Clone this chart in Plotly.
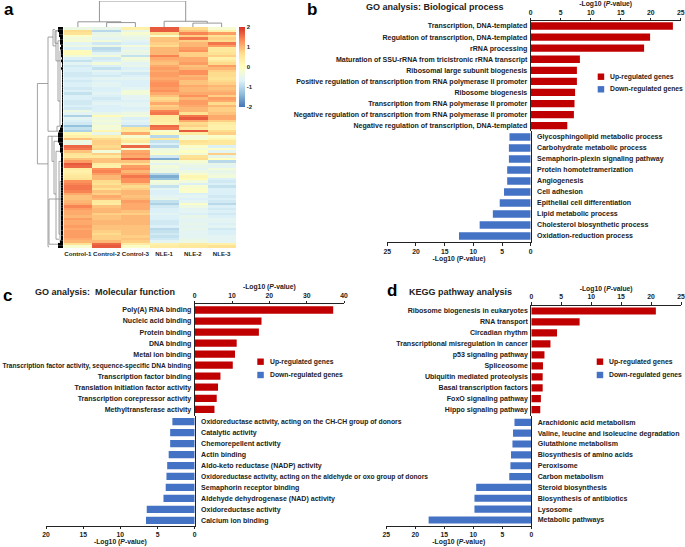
import plotly.graph_objects as go

W, H = 685, 547
FONT = "Liberation Sans"
RED, BLUE, INK = "#C00000", "#4472C4", "#222222"

samples = ["Control-1", "Control-2", "Control-3", "NLE-1", "NLE-2", "NLE-3"]
control_1 = [-0.4,0.7,0.6,-0.1,-0.3,-0.2,-0.6,-0.4,-0.7,0.1,0.1,
             -0.3,-0.7,-0.9,-0.6,-0.8,-0.7,-0.7,-0.8,-0.8,-0.7,-0.8,
             -0.7,-0.7,-0.8,-0.7,-0.9,-0.7,-0.7,-0.8,-0.8,-0.7,-0.8,
             -0.4,-0.6,-1.1,-0.6,-0.7,-0.8,-1.3,-0.9,-1.1,0.1,0.3,
             0.9,-0.4,-0.4,1.6,1.5,0.9,0.6,0.5,0.9,1.2,1.7,
             1.6,0.4,0.3,0.4,0.5,0.6,1.3,1.4,1.5,1.5,1.4,
             1.1,0.9,0.9,1.0,1.1,1.4,1.2,1.1,1.1,1.0,1.2,
             1.1,1.1,1.2,1.1,1.2,1.2,1.2,1.1,1.0,0.6,-0.2]
control_2 = [-0.5,-1.0,-0.5,-0.4,-0.6,-0.3,-0.8,-0.4,-1.0,-0.9,-0.6,
             -0.3,-0.8,-0.7,-0.3,-0.7,-0.9,-0.6,-0.7,-0.8,-0.6,-0.7,
             -0.6,-0.6,-0.7,-0.7,-0.6,-0.7,-0.8,-0.7,-0.6,-0.7,-0.7,
             -0.7,-0.5,0.1,-0.4,-0.3,-0.4,-0.2,-0.3,0.2,-0.5,0.3,
             0.7,0.8,0.8,0.7,0.8,-0.3,0.8,0.5,0.9,0.9,0.4,
             0.3,1.3,1.4,1.2,1.0,1.0,0.7,0.6,0.8,0.6,0.9,
             0.8,1.1,1.0,0.5,0.4,0.9,1.0,1.0,0.8,0.9,0.9,
             1.0,1.0,0.9,0.9,0.8,0.7,0.8,0.8,1.0,1.6,1.7]
control_3 = [0.3,-0.5,-0.2,-0.4,-0.5,-0.6,-0.7,-0.3,-0.6,-0.4,-0.5,
             -0.9,-0.3,-0.4,-0.6,-0.5,-0.7,-0.6,-0.8,-0.7,-0.6,-0.7,
             -0.7,-0.7,-0.6,-0.3,-0.3,-0.6,-0.6,-0.7,-0.6,-0.6,-0.7,
             -0.6,-0.4,-0.3,-0.7,-0.6,-0.7,-1.0,0.5,0.4,1.1,-0.2,
             0.3,0.5,-0.2,1.6,-0.2,1.1,1.2,1.1,1.6,0.9,0.6,
             1.2,1.3,1.0,1.2,1.5,1.3,1.3,0.9,0.7,0.8,1.0,
             1.0,0.9,1.0,1.2,1.1,1.1,1.1,0.9,0.8,1.0,1.0,
             1.0,1.0,0.9,0.9,0.9,0.9,0.8,0.9,0.8,0.4,-0.1]
nle_1 = [1.7,1.7,0.7,-0.1,0.9,0.9,0.8,0.7,1.0,1.0,1.0,
         1.4,1.1,1.0,0.9,1.1,1.2,1.1,1.2,1.2,1.1,1.2,
         1.3,1.3,1.2,1.3,1.1,0.9,0.7,0.8,1.1,0.8,0.9,
         1.4,1.5,0.5,0.4,0.4,0.3,1.6,1.5,-0.2,0.1,-1.0,
         0.5,-0.9,-0.7,-1.0,-0.4,-0.3,-0.1,-0.8,-1.5,-0.3,-0.6,
         -0.3,-0.4,-0.4,-1.0,-1.5,-1.3,-0.3,-0.4,-0.9,-0.6,-0.7,
         -0.7,-0.6,-0.5,-0.9,-1.1,-0.8,-0.7,-0.7,-0.6,-0.7,-0.7,
         -0.8,-0.8,-0.7,-1.0,-0.9,-0.8,-0.9,-0.8,-0.6,0.3,0.4]
nle_2 = [0.7,0.9,1.4,0.8,1.5,0.8,1.0,1.0,1.2,1.3,0.8,
         0.8,1.1,1.1,1.2,0.9,1.0,1.3,1.3,1.0,1.1,0.9,
         0.9,1.1,1.0,1.0,1.1,1.3,1.0,1.2,1.2,1.1,1.0,
         1.0,0.6,1.5,1.7,1.1,0.7,0.8,0.5,1.7,0.4,-0.3,
         -0.2,0.6,0.5,-0.1,-0.3,0.0,-0.3,0.6,0.7,-0.2,-0.4,
         -0.5,-0.6,-0.4,-0.2,0.2,0.1,-0.3,-0.7,-0.2,-0.1,-0.1,
         -0.7,-0.6,-0.7,-0.6,-0.1,-0.4,-0.6,-0.6,-0.7,-0.5,-0.6,
         -0.6,-0.5,-0.6,-0.5,-0.6,-0.6,-0.6,-0.5,-0.4,0.4,0.5]
nle_3 = [-0.2,0.3,1.2,0.6,0.8,0.7,1.5,1.2,0.5,0.5,0.6,
         0.8,0.3,0.5,0.7,1.2,1.0,0.8,0.7,0.7,0.6,0.7,
         0.8,1.0,0.9,1.0,1.1,0.8,1.2,1.1,0.7,1.0,0.8,
         0.8,0.9,1.1,1.1,0.8,0.4,0.3,0.3,0.7,0.8,-0.1,
         0.2,0.5,0.5,-0.7,-0.1,-0.6,0.8,-0.5,0.0,-1.0,-0.5,
         -0.6,-0.3,-0.5,-0.4,-0.3,-0.7,-0.8,-0.7,-0.9,-0.7,-0.7,
         -0.7,-0.8,-0.7,-0.8,-1.0,-0.7,-0.8,-0.7,-0.8,-0.7,-0.6,
         -0.6,-0.7,-0.6,-0.8,-0.7,-0.7,-0.6,-0.6,-0.6,0.3,0.6]

# dendrograms: (first position, second position, merge height, arm height left, arm height right)
sample_merges = [(1, 2, 0.17, 0, 0), (4, 5, 0.15, 0, 0), (0, 1.5, 0.2, 0, 0.17),
                 (3, 4.5, 0.22, 0, 0.15), (0.75, 3.75, 1.0, 0.2, 0.22)]
row_merges = [(22, 54, 25.6, 15, 15), (3.5, 41, 15, 10, 6), (43, 87, 15, 11, 14),
              (0.5, 7, 10, 8, 7), (1, 6, 8, 3, 5), (1, 13, 7, 3, 3), (5, 29, 5, 2, 3),
              (9, 39, 3, 1, 1), (39, 41, 6, 3, 3), (43, 53, 11, 5, 9), (45, 66, 9, 4, 7),
              (49, 84, 7, 3, 4), (53, 82, 4, 2, 3), (61, 85, 3, 1, 1), (68, 86, 14, 2, 2)]
leaf_heights = [5,5,4,4,3,3,3,2,3,2,2,
                2,1,2,1,1,2,1,1,1,1,1,
                1,1,1,1,1,1,1,1,1,1,1,
                1,1,1,1,1,1,2,3,4,5,5,
                5,5,4,3,3,3,2,2,2,2,2,
                2,2,2,2,2,2,2,2,2,2,2,
                2,2,2,2,2,2,2,2,2,2,2,
                2,2,2,2,2,2,2,2,3,5,5]

colorbar_ticks = [2, 1, 0, -1, -2]
colorbar_labels = ["2", "1", "0", "-1", "-2"]

# panel b
bp_up_terms = ["Transcription, DNA-templated", "Regulation of transcription, DNA-templated", "rRNA processing",
               "Maturation of SSU-rRNA from tricistronic rRNA transcript", "Ribosomal large subunit biogenesis",
               "Positive regulation of transcription from RNA polymerase II promoter", "Ribosome biogenesis",
               "Transcription from RNA polymerase II promoter",
               "Negative regulation of transcription from RNA polymerase II promoter",
               "Negative regulation of transcription, DNA-templated"]
bp_up_values = [23.7, 19.9, 18.9, 8.2, 7.7, 7.7, 7.4, 7.3, 7.2, 6.1]
bp_down_terms = ["Glycosphingolipid metabolic process", "Carbohydrate metabolic process",
                 "Semaphorin-plexin signaling pathway", "Protein homotetramerization", "Angiogenesis",
                 "Cell adhesion", "Epithelial cell differentiation", "Lipid metabolic process",
                 "Cholesterol biosynthetic process", "Oxidation-reduction process"]
bp_down_values = [3.7, 3.8, 3.8, 4.1, 4.1, 4.65, 5.4, 6.6, 8.9, 12.5]
# panel c
mf_up_terms = ["Poly(A) RNA binding", "Nucleic acid binding", "Protein binding", "DNA binding", "Metal ion binding",
               "Transcription factor activity, sequence-specific DNA binding", "Transcription factor binding",
               "Translation initiation factor activity", "Transcription corepressor activity",
               "Methyltransferase activity"]
mf_up_values = [37.1, 17.9, 17.2, 11.25, 10.8, 10.2, 6.9, 6.25, 5.9, 5.3]
mf_down_terms = ["Oxidoreductase activity, acting on the CH-CH group of donors", "Catalytic activity",
                 "Chemorepellent activity", "Actin binding", "Aldo-keto reductase (NADP) activity",
                 "Oxidoreductase activity, acting on the aldehyde or oxo group of donors",
                 "Semaphorin receptor binding", "Aldehyde dehydrogenase (NAD) activity",
                 "Oxidoreductase activity", "Calcium ion binding"]
mf_down_values = [3.0, 3.3, 3.3, 3.5, 3.7, 3.8, 3.9, 4.2, 6.45, 6.55]
# panel d
kegg_up_terms = ["Ribosome biogenesis in eukaryotes", "RNA transport", "Circadian rhythm",
                 "Transcriptional misregulation in cancer", "p53 signaling pathway", "Spliceosome",
                 "Ubiquitin mediated proteolysis", "Basal transcription factors", "FoxO signaling pathway",
                 "Hippo signaling pathway"]
kegg_up_values = [20.8, 8.07, 4.3, 3.2, 2.2, 1.95, 1.9, 1.9, 1.6, 1.5]
kegg_down_terms = ["Arachidonic acid metabolism", "Valine, leucine and isoleucine degradation",
                   "Glutathione metabolism", "Biosynthesis of amino acids", "Peroxisome", "Carbon metabolism",
                   "Steroid biosynthesis", "Biosynthesis of antibiotics", "Lysosome", "Metabolic pathways"]
kegg_down_values = [2.9, 3.15, 3.25, 3.5, 3.6, 3.8, 9.5, 9.8, 9.8, 17.7]

UP_NAME, DOWN_NAME = "Up-regulated genes", "Down-regulated genes"

# the reference sets three long terms in a smaller size
smaller_terms = {"Transcription factor activity, sequence-specific DNA binding": 6.62,
                 "Oxidoreductase activity, acting on the CH-CH group of donors": 6.8,
                 "Oxidoreductase activity, acting on the aldehyde or oxo group of donors": 6.7}


def xp(v):
    return v / W


def yp(v):
    return 1 - v / H


def tick_text(term):
    if term in smaller_terms:
        return f'<span style="font-size:{smaller_terms[term]}px">{term}</span>'
    return term


fig = go.Figure()
layout = {}
annots = []
shapes = []

# ---------- panel a ----------
HX0, HX1, HY0, HY1 = 63.5, 236, 27, 248
cols = [control_1, control_2, control_3, nle_1, nle_2, nle_3]
z = [list(r) for r in zip(*cols)]
fig.add_trace(go.Heatmap(
    z=z, x=samples, y=list(range(len(z))), zmin=-2, zmax=2,
    colorscale=[[0, "#4575B4"], [1/6, "#91BFDB"], [2/6, "#E0F3F8"], [3/6, "#FFFFBF"],
                [4/6, "#FEE090"], [5/6, "#FC8D59"], [1, "#D73027"]],
    colorbar=dict(x=xp(239), xanchor="left", y=yp(27), yanchor="top", lenmode="pixels", len=80,
                  thicknessmode="pixels", thickness=6, xpad=0, ypad=0, outlinewidth=0,
                  tickmode="array", tickvals=colorbar_ticks, ticktext=colorbar_labels, ticks="",
                  ticklabelposition="outside",
                  tickfont=dict(family=FONT, size=6, color=INK, weight=700)),
    xaxis="x", yaxis="y", hoverinfo="skip"))
layout["xaxis"] = dict(domain=[xp(HX0), xp(HX1)], anchor="y", showgrid=False, zeroline=False, ticks="",
                       tickfont=dict(family=FONT, size=6.1, color=INK, weight=700), tickangle=0,
                       ticklabelstandoff=1, showline=False)
layout["yaxis"] = dict(domain=[yp(HY1), yp(HY0)], anchor="x", autorange="reversed", showticklabels=False,
                       showgrid=False, zeroline=False, ticks="", showline=False)

sx, sy = [], []
for a, b, h, la, lb in sample_merges:
    sx += [a, a, b, b, None]
    sy += [la, h, h, lb, None]
fig.add_trace(go.Scatter(x=sx, y=sy, mode="lines", line=dict(color="#8a8a8a", width=0.9),
                         xaxis="x2", yaxis="y2", showlegend=False, hoverinfo="skip"))
layout["xaxis2"] = dict(domain=[xp(HX0), xp(HX1)], anchor="y2", range=[-0.5, 5.5], visible=False)
layout["yaxis2"] = dict(domain=[yp(27), yp(1)], anchor="x2", range=[0, 1], visible=False)

rx, ry = [], []
for a, b, h, la, lb in row_merges:
    rx += [la, h, h, lb, None]
    ry += [a, a, b, b, None]
fig.add_trace(go.Scatter(x=rx, y=ry, mode="lines", line=dict(color="#8a8a8a", width=0.8),
                         xaxis="x3", yaxis="y3", showlegend=False, hoverinfo="skip"))
lx, ly = [], []
for i, h in enumerate(leaf_heights):
    lx += [0, h, None]
    ly += [i, i, None]
fig.add_trace(go.Scatter(x=lx, y=ly, mode="lines", line=dict(color="#000000", width=2.6),
                         xaxis="x3", yaxis="y3", showlegend=False, hoverinfo="skip"))
layout["xaxis3"] = dict(domain=[xp(33), xp(63)], anchor="y3", range=[30, 0], visible=False)
layout["yaxis3"] = dict(domain=[yp(HY1), yp(HY0)], anchor="x3", range=[len(z) - 0.5, -0.5], visible=False)

tick_font = dict(family=FONT, size=6.8, color=INK, weight=700)
axis_title_font = dict(family=FONT, size=6.8, color=INK, weight=700)
label_font = dict(family=FONT, size=7.05, color=INK, weight=700)
legend_font = dict(family=FONT, size=6.8, color=INK, weight=700)


def panel(idx, up_t, up_v, dn_t, dn_v, zero, top_end, bot_end, ax_top, ax_bot, up0, up9, dn0, dn9,
          top_rng, top_dtick, bot_rng, bot_dtick, bot_title, legend_x, legend_y):
    xu, yu, xd, yd = idx, idx, idx + 1, idx + 1
    fig.add_trace(go.Bar(x=up_v, y=up_t, orientation="h", marker=dict(color=RED, line_width=0), width=0.66,
                         xaxis=f"x{xu}", yaxis=f"y{yu}", showlegend=False, name=UP_NAME))
    fig.add_trace(go.Bar(x=dn_v, y=dn_t, orientation="h", marker=dict(color=BLUE, line_width=0), width=0.66,
                         xaxis=f"x{xd}", yaxis=f"y{yd}", showlegend=False, name=DOWN_NAME))
    step_u = (up9 - up0) / 9
    step_d = (dn9 - dn0) / 9
    mid = (up9 + dn0) / 2
    axis_common = dict(showline=True, linecolor=INK, linewidth=1, ticks="outside", ticklen=2.5, tickwidth=0.8,
                       tickcolor=INK, showgrid=False, zeroline=False, tickfont=tick_font)
    layout[f"xaxis{xu}"] = dict(domain=[xp(zero), xp(top_end)], anchor=f"y{yu}", side="top", range=[0, top_rng],
                                dtick=top_dtick, tick0=0,
                                title=dict(text="-Log10 (<i>P</i>-value)", font=axis_title_font, standoff=1),
                                **axis_common)
    layout[f"xaxis{xd}"] = dict(domain=[xp(bot_end), xp(zero)], anchor=f"y{yd}", side="bottom", range=[bot_rng, 0],
                                dtick=bot_dtick, tick0=0,
                                title=dict(text=bot_title, font=axis_title_font, standoff=1),
                                **axis_common)
    layout[f"yaxis{yu}"] = dict(domain=[yp(mid), yp(ax_top)], anchor=f"x{xu}", side="left", type="category",
                                categoryorder="array", categoryarray=up_t,
                                range=[(mid - up0) / step_u, -(up0 - ax_top) / step_u],
                                showline=True, linecolor=INK, linewidth=1, ticks="", showgrid=False, zeroline=False,
                                tickfont=label_font, ticklabelstandoff=1, tickmode="array", tickvals=up_t,
                                ticktext=[tick_text(t) for t in up_t])
    layout[f"yaxis{yd}"] = dict(domain=[yp(ax_bot), yp(mid)], anchor=f"x{xd}", side="right", type="category",
                                categoryorder="array", categoryarray=dn_t,
                                range=[(ax_bot - dn0) / step_d, -(dn0 - mid) / step_d],
                                showline=True, linecolor=INK, linewidth=1, ticks="", showgrid=False, zeroline=False,
                                tickfont=label_font, ticklabelstandoff=4, tickmode="array", tickvals=dn_t,
                                ticktext=[tick_text(t) for t in dn_t])
    for name, col, ly_ in ((UP_NAME, RED, legend_y[0]), (DOWN_NAME, BLUE, legend_y[1])):
        shapes.append(dict(type="rect", xref="paper", yref="paper", x0=xp(legend_x), x1=xp(legend_x + 6.5),
                           y0=yp(ly_ + 3.2), y1=yp(ly_ - 3.2), fillcolor=col, line_width=0))
        annots.append(dict(text=name, xref="paper", yref="paper", x=xp(legend_x + 10.4), y=yp(ly_), xanchor="left",
                           yanchor="middle", showarrow=False, font=legend_font))


panel(4, bp_up_terms, bp_up_values, bp_down_terms, bp_down_values, 530.7, 680.7, 387.3, 21.3, 242, 26, 125.7, 137, 236,
      25, 5, 25, 5, "-Log10 (P-value)", 597.7, (76.7, 89.3))
panel(6, mf_up_terms, mf_up_values, mf_down_terms, mf_down_values, 194.7, 344, 46, 304.3, 525.7, 310, 409.3, 421.7, 520.3,
      40, 10, 20, 5, "-Log10 (<i>P</i>-value)", 257.3, (361.7, 375))
panel(8, kegg_up_terms, kegg_up_values, kegg_down_terms, kegg_down_values, 531.3, 681, 386.3, 305.7, 525.7, 311, 409.7, 422.3, 520,
      25, 5, 25, 5, "-Log10 (<i>P</i>-value)", 596.7, (361.7, 375))

titles = [("GO analysis: Biological process", 364, 7), ("GO analysis:  Molecular function", 33, 291.5),
          ("KEGG pathway analysis", 407, 292)]
for text, x, y in titles:
    annots.append(dict(text=text, xref="paper", yref="paper", x=xp(x), y=yp(y), xanchor="left", yanchor="middle",
                       showarrow=False, font=dict(family=FONT, size=9, color=INK, weight=700)))
letters = [("a", 1.5, 9), ("b", 304.5, 9), ("c", 0.5, 295), ("d", 385.5, 291)]
for text, x, y in letters:
    annots.append(dict(text=text, xref="paper", yref="paper", x=xp(x), y=yp(y), xanchor="left", yanchor="middle",
                       showarrow=False, font=dict(family=FONT, size=17, color="#000000", weight=700)))

fig.update_layout(width=W, height=H, autosize=False,
                  margin=dict(l=0, r=0, t=0, b=0, pad=0, autoexpand=False),
                  paper_bgcolor="#ffffff", plot_bgcolor="#ffffff", showlegend=False, barmode="overlay",
                  annotations=annots, shapes=shapes, **layout)
fig.write_html("out.html", config={"displayModeBar": False},
               post_script="document.body.style.margin='0';document.body.style.overflow='hidden';")
